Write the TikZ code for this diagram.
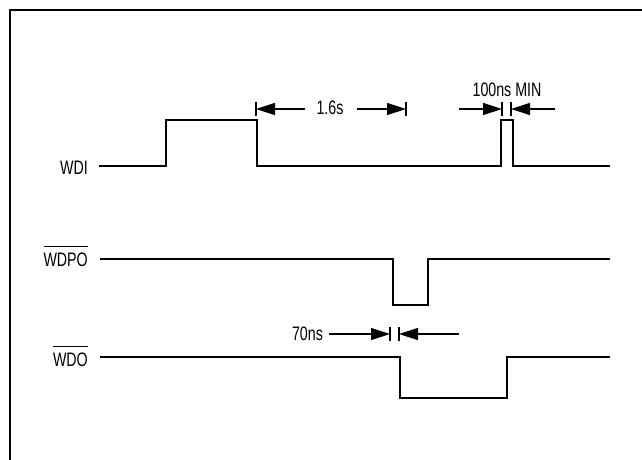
\documentclass[tikz,border=0pt]{standalone}
\usepackage{fontspec}
\setmainfont{Liberation Sans}[FakeStretch=0.73]
\usetikzlibrary{arrows.meta}
\newcommand\ovlbar[1]{\leavevmode\vbox{\hrule height 1.2pt\kern 5pt\hbox{#1}}}
\begin{document}
\begin{tikzpicture}[x=1pt,y=-1pt,
  sig/.style={line width=1.5pt,line join=miter},
  dimarrow/.style={line width=1.2pt,-{Triangle[length=19pt,width=12pt]}},
  tick/.style={line width=1.2pt},
  lbl/.style={inner sep=0pt,font=\fontsize{19.5}{21}\selectfont}]
\useasboundingbox (0,0) rectangle (642,459);
\clip (0,0) rectangle (642,459);
\fill[white] (0,0) rectangle (642,459);
% frame
\draw[line width=2.2pt] (10,470) -- (10,10) -- (660,10);
% labels
\node[lbl,anchor=base east] (wdi) at (88,174) {WDI};
\node[lbl,anchor=base east] (wdpo) at (88,266) {\ovlbar{WDPO}};
\node[lbl,anchor=base east] (wdo) at (88,366) {\ovlbar{WDO}};
% waveforms
\draw[sig] (99,166) -- (166,166) -- (166,120) -- (257,120) -- (257,166) -- (501,166) -- (501,120) -- (513,120) -- (513,166) -- (610,166);
\draw[sig] (100,259) -- (393,259) -- (393,305) -- (428,305) -- (428,259) -- (610,259);
\draw[sig] (100,357) -- (400,357) -- (400,398) -- (507,398) -- (507,357) -- (610,357);
% 1.6s
\node[lbl,anchor=base] (t16) at (330,114.5) {1.6s};
\coordinate (a1) at (256,109); \coordinate (a2) at (406,109);
\coordinate (s1) at (305,109); \coordinate (s2) at (357,109);
\draw[dimarrow] (s1) -- (a1);
\draw[dimarrow] (s2) -- (a2);
\draw[tick] ([yshift=-7pt]a1) -- ([yshift=7pt]a1);
\draw[tick] ([yshift=-7pt]a2) -- ([yshift=7pt]a2);
% 100ns MIN
\node[lbl,anchor=base] (t100) at (507,96.5) {100ns MIN};
\coordinate (b1) at (502,109); \coordinate (b2) at (511,109);
\coordinate (u1) at (459,109); \coordinate (u2) at (555,109);
\draw[dimarrow] (u1) -- (b1);
\draw[dimarrow] (u2) -- (b2);
\draw[tick] ([yshift=-7pt]b1) -- ([yshift=7pt]b1);
\draw[tick] ([yshift=-7pt]b2) -- ([yshift=7pt]b2);
% 70ns
\node[lbl,anchor=base] (t70) at (307.5,340) {70ns};
\coordinate (c1) at (390,334); \coordinate (c2) at (399,334);
\coordinate (v1) at (329,334); \coordinate (v2) at (459,334);
\draw[dimarrow] (v1) -- (c1);
\draw[dimarrow] (v2) -- (c2);
\draw[tick] ([yshift=-7pt]c1) -- ([yshift=7pt]c1);
\draw[tick] ([yshift=-7pt]c2) -- ([yshift=7pt]c2);
\end{tikzpicture}
\end{document}
